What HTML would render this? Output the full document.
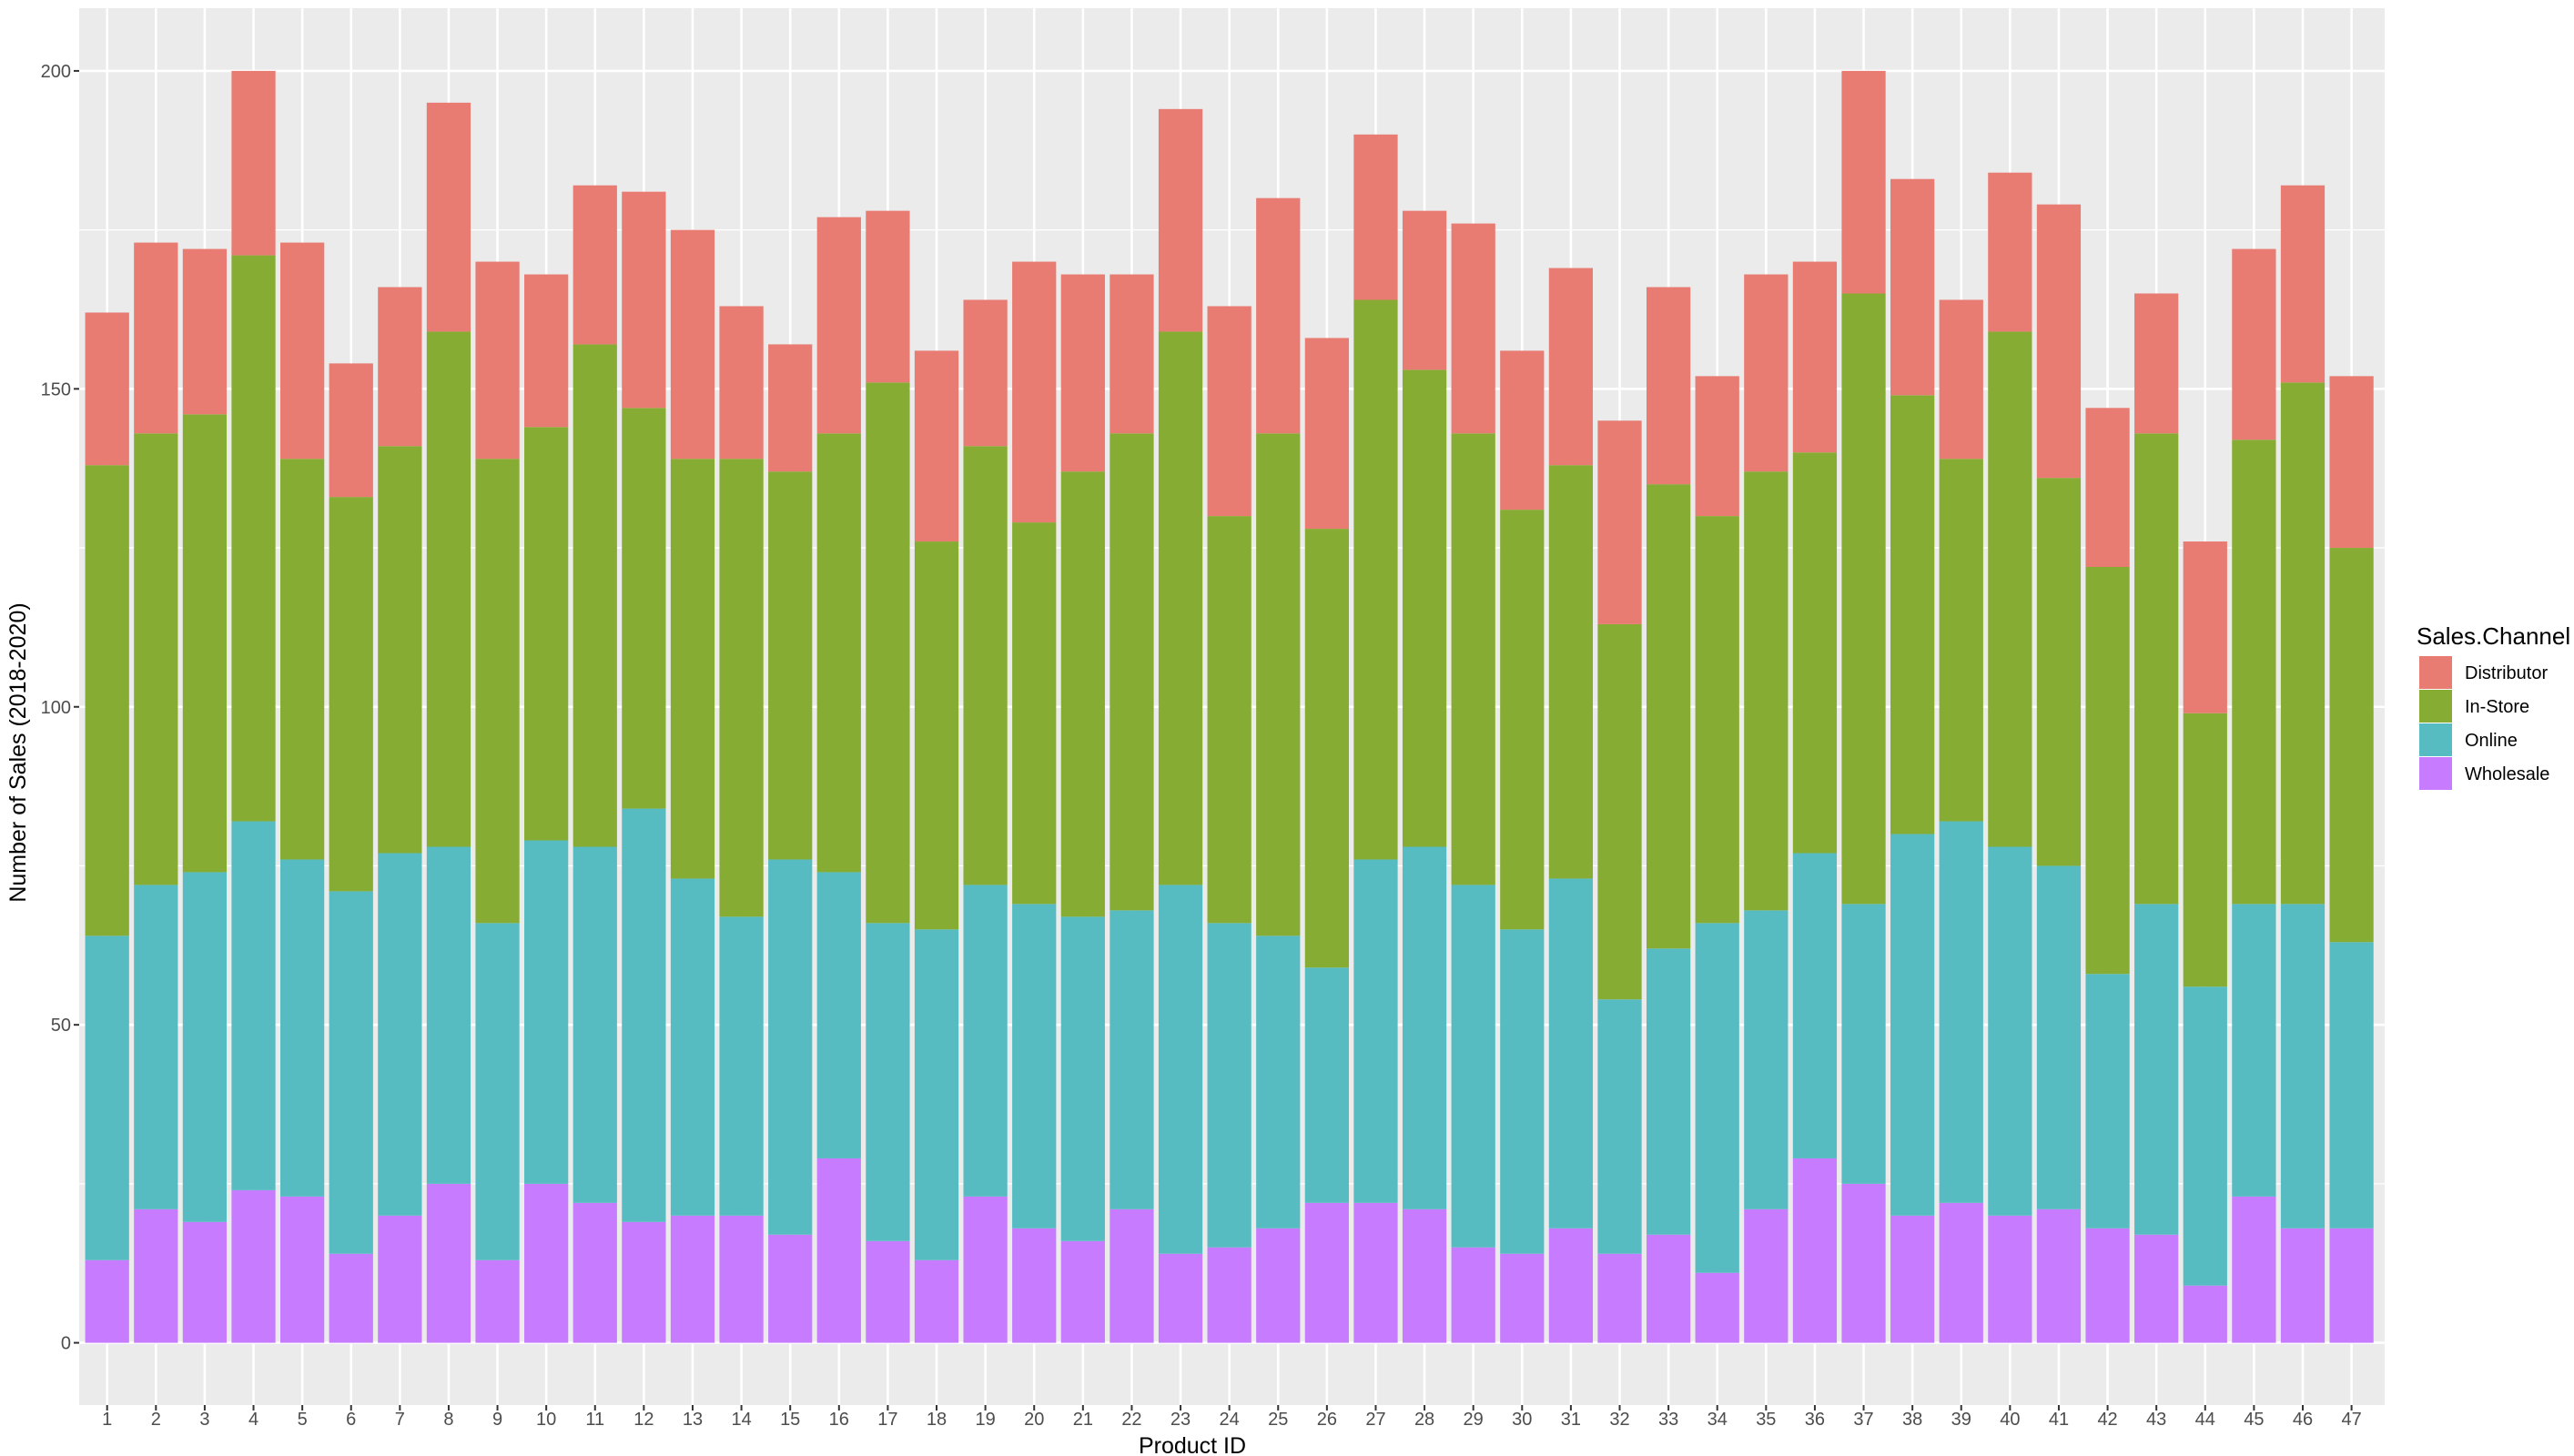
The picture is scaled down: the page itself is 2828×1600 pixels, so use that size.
<!DOCTYPE html>
<html><head><meta charset="utf-8"><style>
html,body{margin:0;padding:0;background:#fff;}
svg{display:block;font-family:"Liberation Sans",Arial,sans-serif;}
</style></head><body>
<svg id="chart" width="2828" height="1600" viewBox="0 0 2828 1600">
<rect x="0" y="0" width="2828" height="1600" fill="#fff"/>
<rect id="panel" x="87" y="9" width="2533" height="1535" fill="#EBEBEB"/>
<g id="grid"></g>
<g id="bars"></g>
<g id="yticks"></g>
<g id="xticks"></g>
<text x="1310" y="1597" font-size="25" text-anchor="middle" fill="#000">Product ID</text>
<text x="0" y="0" font-size="25" text-anchor="middle" fill="#000" transform="translate(28,827) rotate(-90)">Number of Sales (2018-2020)</text>
<g id="legend">
<text x="2655" y="708" font-size="26" fill="#000">Sales.Channel</text>
</g>
</svg>
<script>
const categories = Array.from({length:47},(_,i)=>String(i+1));
const seriesNames = ["Wholesale","Online","In-Store","Distributor"];
const seriesColors = ["#C77CFF","#56BCC2","#87AC33","#E87B72"];
const wholesale = [13,21,19,24,23,14,20,25,13,25,22,19,20,20,17,29,16,13,23,18,16,21,14,15,18,22,22,21,15,14,18,14,17,11,21,29,25,20,22,20,21,18,17,9,23,18,18];
const online = [51,51,55,58,53,57,57,53,53,54,56,65,53,47,59,45,50,52,49,51,51,47,58,51,46,37,54,57,57,51,55,40,45,55,47,48,44,60,60,58,54,40,52,47,46,51,45];
const instore = [74,71,72,89,63,62,64,81,73,65,79,63,66,72,61,69,85,61,69,60,70,75,87,64,79,69,88,75,71,66,65,59,73,64,69,63,96,69,57,81,61,64,74,43,73,82,62];
const distributor = [24,30,26,29,34,21,25,36,31,24,25,34,36,24,20,34,27,30,23,41,31,25,35,33,37,30,26,25,33,25,31,32,31,22,31,30,35,34,25,25,43,25,22,27,30,31,27];
const yTicks = [0,50,100,150,200];
const yMinor = [25,75,125,175];

const NS="http://www.w3.org/2000/svg";
const y0px=1475.6, y200px=77.9;
const yScale=v=>y0px-(y0px-y200px)*v/200;
const x1=117.7, xN=2583.6;
const step=(xN-x1)/(categories.length-1);
const xScale=i=>x1+i*step;
const bw=step*0.9;
function mk(tag,attrs,parent){const e=document.createElementNS(NS,tag);for(const k in attrs)e.setAttribute(k,attrs[k]);parent.appendChild(e);return e;}
const grid=document.getElementById('grid');
yMinor.forEach(v=>{const l=mk('line',{x1:87,x2:2620,y1:yScale(v),y2:yScale(v),stroke:'#fff','stroke-width':1.3},grid);

});
yTicks.forEach(v=>{const l=mk('line',{x1:87,x2:2620,y1:yScale(v),y2:yScale(v),stroke:'#fff','stroke-width':2.6},grid);

});
categories.forEach((c,i)=>{const l=mk('line',{x1:xScale(i),x2:xScale(i),y1:9,y2:1544,stroke:'#fff','stroke-width':2.6},grid);

});
const bars=document.getElementById('bars');
const series=[wholesale,online,instore,distributor];
categories.forEach((c,i)=>{let base=0;
series.forEach((s,k)=>{const top=base+s[i];
const r=mk('rect',{x:xScale(i)-bw/2,y:yScale(top),width:bw,height:yScale(base)-yScale(top),fill:seriesColors[k]},bars);


base=top;});});
const yt=document.getElementById('yticks');
yTicks.forEach(v=>{mk('line',{x1:81,x2:87,y1:yScale(v),y2:yScale(v),stroke:'#333','stroke-width':2},yt);
const t=mk('text',{x:78,y:yScale(v)+7,'font-size':20,'text-anchor':'end',fill:'#4D4D4D'},yt);t.textContent=v;

});
const xt=document.getElementById('xticks');
categories.forEach((c,i)=>{mk('line',{x1:xScale(i),x2:xScale(i),y1:1544,y2:1550,stroke:'#333','stroke-width':2},xt);
const t=mk('text',{x:xScale(i),y:1566,'font-size':20,'text-anchor':'middle',fill:'#4D4D4D'},xt);t.textContent=c;

});
const lg=document.getElementById('legend');
const order=[3,2,1,0];
order.forEach((k,j)=>{const y=721+j*37;
const r=mk('rect',{x:2658,y:y,width:36,height:36,fill:seriesColors[k]},lg);


const t=mk('text',{x:2708,y:y+25,'font-size':20,fill:'#000'},lg);t.textContent=seriesNames[k];

});
</script>
</body></html>
